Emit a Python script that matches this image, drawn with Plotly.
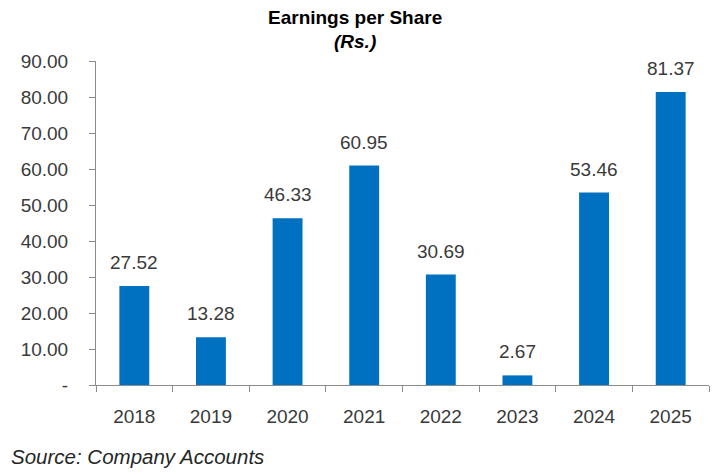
import plotly.graph_objects as go

# data
years = ["2018", "2019", "2020", "2021", "2022", "2023", "2024", "2025"]
eps = [27.52, 13.28, 46.33, 60.95, 30.69, 2.67, 53.46, 81.37]
y_ticks = [0, 10, 20, 30, 40, 50, 60, 70, 80, 90]
y_tick_text = ["-", "10.00", "20.00", "30.00", "40.00", "50.00", "60.00", "70.00", "80.00", "90.00"]

FONT = "Liberation Sans, Arial, sans-serif"
TXT = "#3a3a3a"

# page body has an 8px default margin, so the figure is a bit smaller
W, H = 712, 467
L, R, T, B = 88, 11, 53, 90

fig = go.Figure(go.Bar(
    x=years, y=eps,
    marker=dict(color="#0070C0", line=dict(width=0)),
    hovertemplate="%{x}: %{y:.2f}<extra></extra>",
))

# value labels sit a little above each bar
# (on a category axis annotation x is the category's index)
for i, v in enumerate(eps):
    fig.add_annotation(x=i, y=v, text="%.2f" % v, showarrow=False,
                       yanchor="bottom", yshift=11,
                       font=dict(size=19, color=TXT, family=FONT))

# pixel positions (inside the figure) of the titles and the source line
pw = W - L - R
ph = H - T - B
def px2paper(px, py):
    return (px - L) / pw, (H - B - py) / ph

tx, ty = px2paper(347, 9)
fig.add_annotation(text="<b>Earnings per Share</b>", x=tx, y=ty, xref="paper", yref="paper",
                   showarrow=False, yanchor="middle", font=dict(size=19, color="#000000"))
tx, ty = px2paper(347, 34)
fig.add_annotation(text="<b><i>(Rs.)</i></b>", x=tx, y=ty, xref="paper", yref="paper",
                   showarrow=False, yanchor="middle", font=dict(size=19, color="#000000"))
tx, ty = px2paper(1, 448)
fig.add_annotation(text="<i>Source: Company Accounts</i>", x=tx, y=ty, xref="paper", yref="paper",
                   showarrow=False, xanchor="left", yanchor="middle",
                   font=dict(size=20.5, color="#262626"))

fig.update_layout(
    width=W, height=H,
    margin=dict(l=L, r=R, t=T, b=B),
    paper_bgcolor="white", plot_bgcolor="white",
    font=dict(family=FONT, color=TXT),
    bargap=0.61,
    showlegend=False,
)

fig.update_xaxes(
    type="category",
    automargin=False,
    showline=True, linecolor="#8c8c8c", linewidth=1,
    ticks="outside", tickson="boundaries", ticklen=6, tickcolor="#8c8c8c",
    tickfont=dict(size=19, color=TXT),
    ticklabelstandoff=14,
    tickangle=0,
    showgrid=False,
)
fig.update_yaxes(
    automargin=False,
    range=[0, 90],
    tickvals=y_ticks, ticktext=y_tick_text,
    showline=True, linecolor="#8c8c8c", linewidth=1,
    ticks="outside", ticklen=6, tickcolor="#8c8c8c",
    tickfont=dict(size=19, color=TXT),
    ticklabelstandoff=17,
    showgrid=False, zeroline=False,
)

fig.write_html("out.html")
